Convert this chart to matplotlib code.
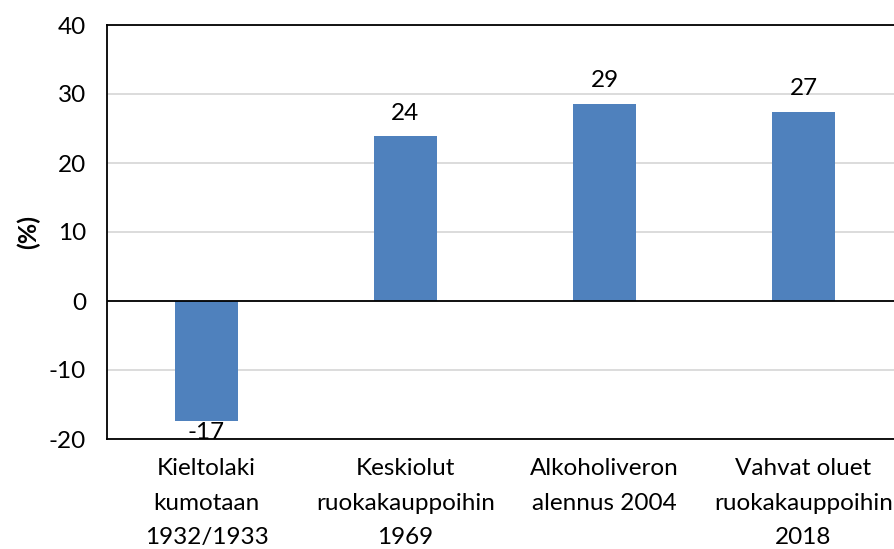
import matplotlib.pyplot as plt

plt.rcParams['font.family'] = ['Lato', 'DejaVu Sans']
plt.rcParams['axes.unicode_minus'] = False

categories = ["Kieltolaki\nkumotaan\n1932/1933",
              "Keskiolut\nruokakauppoihin\n1969",
              "Alkoholiveron\nalennus 2004",
              "Vahvat oluet\nruokakauppoihin\n2018"]
changes = [-17.4, 23.9, 28.6, 27.4]
yticks = [-20, -10, 0, 10, 20, 30, 40]

fs = 17.5

fig = plt.figure(figsize=(8.95, 5.49), dpi=100)
# plot area runs slightly past the right edge of the canvas
ax = fig.add_axes([107 / 895, 1 - 439 / 549, 796 / 895, 414 / 549])

x = range(len(categories))
bars = ax.bar(x, changes, width=0.32, color="#4F81BD", zorder=3)

ax.set_xlim(-0.5, len(categories) - 0.5)
ax.set_ylim(-20, 40)
ax.set_yticks(yticks)
ax.set_xticks(list(x))
ax.set_xticklabels(categories, fontsize=fs, linespacing=1.78)
ax.tick_params(axis="both", length=0, labelsize=fs)
ax.tick_params(axis="y", pad=15)
ax.tick_params(axis="x", pad=14)

ax.grid(axis="y", color="#d9d9d9", linewidth=1.3, zorder=0)
ax.axhline(0, color="black", linewidth=1.3, zorder=4)
for side in ["left", "top", "bottom"]:
    ax.spines[side].set_linewidth(1.3)
ax.spines["right"].set_visible(False)

for b, v in zip(bars, changes):
    if v >= 0:
        ax.annotate(f"{v:.0f}", (b.get_x() + b.get_width() / 2, v),
                    xytext=(0, 9), textcoords="offset points",
                    ha="center", va="bottom", fontsize=fs, zorder=5)
    else:
        ax.annotate(f"{v:.0f}", (b.get_x() + b.get_width() / 2, v),
                    xytext=(0, -1), textcoords="offset points",
                    ha="center", va="top", fontsize=fs, zorder=5)

ax.set_ylabel("(%)", fontsize=fs + 0.5, fontweight="bold", labelpad=6)

fig.savefig("out.png", dpi=100)
